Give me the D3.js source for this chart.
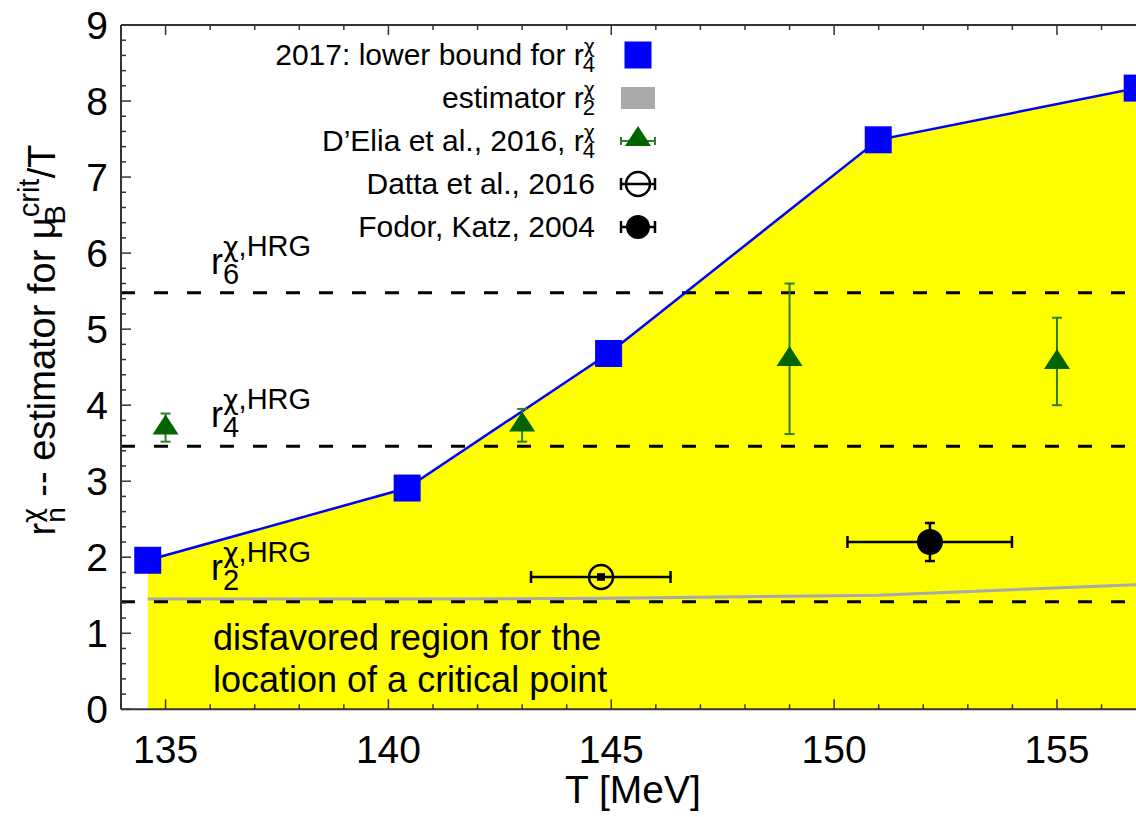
<!DOCTYPE html>
<html>
<head>
<meta charset="utf-8">
<script src="https://cdn.jsdelivr.net/npm/d3@7"></script>
<style>
  body { margin: 0; background: #fff; }
  text { font-family: "Liberation Sans", Arial, sans-serif; fill: #000; }
  .greek { font-family: "DejaVu Sans", sans-serif; }
</style>
</head>
<body>
<div id="chart"></div>
<script>
// 2017 lower bound for r4 (blue squares) and estimator r2 (grey line)
const bound_T = [134.6, 140.42, 144.94, 150.99, 156.8];
const bound_r4 = [1.96, 2.91, 4.68, 7.49, 8.17];
const estimator_r2 = [1.45, 1.45, 1.46, 1.50, 1.64];

// D'Elia et al. 2016 (green triangles)
const delia_T = [135, 143, 149, 155];
const delia_val = [3.72, 3.76, 4.62, 4.58];
const delia_lo = [3.52, 3.52, 3.62, 4.0];
const delia_hi = [3.89, 3.95, 5.6, 5.15];

// Datta et al. 2016 (open circle), Fodor-Katz 2004 (filled circle)
const datta = { T: 144.77, val: 1.74, T_lo: 143.2, T_hi: 146.33, lo: 1.69, hi: 1.79 };
const fodor = { T: 152.15, val: 2.2, T_lo: 150.3, T_hi: 153.99, lo: 1.95, hi: 2.45 };

// HRG reference values
const hrg_n = ['6', '4', '2'];
const hrg_val = [5.48, 3.46, 1.415];

const x_major = [135, 140, 145, 150, 155];
const y_major = [0, 1, 2, 3, 4, 5, 6, 7, 8, 9];

const width = 1136, height = 817;
const svg = d3.select('#chart').append('svg')
    .attr('width', width)
    .attr('height', height);

const x = d3.scaleLinear().domain([134, 157]).range([121, 1146.1]);
const y = d3.scaleLinear().domain([0, 9]).range([709.3, 25]);

const green = '#006400';
const bar_green = '#2e7d2e';
const ink = '#000';

// yellow disfavoured region under the lower bound
const area_pts = bound_T.map((t, i) => [t, bound_r4[i]]);
svg.append('path')
    .datum(area_pts)
    .attr('fill', '#ffff00')
    .attr('d', d3.area().x(d => x(d[0])).y0(y(0)).y1(d => y(d[1])));

// grey estimator line
svg.append('path')
    .datum(bound_T.map((t, i) => [t, estimator_r2[i]]))
    .attr('fill', 'none')
    .attr('stroke', '#aaaaaa')
    .attr('stroke-width', 3)
    .attr('d', d3.line().x(d => x(d[0])).y(d => y(d[1])));

// dashed HRG lines
svg.selectAll('line.hrg')
    .data(hrg_val)
    .join('line')
    .attr('class', 'hrg')
    .attr('x1', x(134)).attr('x2', width)
    .attr('y1', d => y(d)).attr('y2', d => y(d))
    .attr('stroke', ink)
    .attr('stroke-width', 3)
    .attr('stroke-dasharray', '14,19');

// frame + ticks
const frame = svg.append('g').attr('stroke', '#333').attr('stroke-width', 2);
frame.append('line').attr('x1', x(134)).attr('x2', width).attr('y1', y(0)).attr('y2', y(0));
frame.append('line').attr('x1', x(134)).attr('x2', width).attr('y1', y(9)).attr('y2', y(9));
frame.append('line').attr('x1', x(134)).attr('x2', x(134)).attr('y1', y(0)).attr('y2', y(9));

const x_minor = d3.range(134, 158, 1).filter(v => !x_major.includes(v));
const y_minor = d3.range(0, 9.01, 0.2).filter(v => Math.abs(v - Math.round(v)) > 0.01);
const tick_g = svg.append('g').attr('stroke', '#333').attr('stroke-width', 1.5);
[[x_major, 10], [x_minor, 5]].forEach(([vals, len]) => {
    vals.forEach(v => {
        tick_g.append('line').attr('x1', x(v)).attr('x2', x(v)).attr('y1', y(0)).attr('y2', y(0) - len);
        tick_g.append('line').attr('x1', x(v)).attr('x2', x(v)).attr('y1', y(9)).attr('y2', y(9) + len);
    });
});
[[y_major, 10], [y_minor, 5]].forEach(([vals, len]) => {
    vals.forEach(v => {
        tick_g.append('line').attr('x1', x(134)).attr('x2', x(134) + len).attr('y1', y(v)).attr('y2', y(v));
    });
});

// tick labels
svg.selectAll('text.xt')
    .data(x_major)
    .join('text')
    .attr('class', 'xt')
    .attr('x', d => x(d))
    .attr('y', 763)
    .attr('text-anchor', 'middle')
    .attr('font-size', 39)
    .text(d => d);
svg.selectAll('text.yt')
    .data(y_major)
    .join('text')
    .attr('class', 'yt')
    .attr('x', 108)
    .attr('y', d => y(d))
    .attr('dy', '0.36em')
    .attr('text-anchor', 'end')
    .attr('font-size', 39)
    .text(d => d);

// axis titles
svg.append('text')
    .attr('x', 633).attr('y', 803)
    .attr('text-anchor', 'middle')
    .attr('font-size', 39)
    .text('T [MeV]');

const ylab = svg.append('text')
    .attr('transform', 'translate(55,340) rotate(-90)')
    .attr('text-anchor', 'middle')
    .attr('font-size', 38);
ylab.append('tspan').text('r');
ylab.append('tspan').attr('class', 'greek').attr('font-size', 26).attr('dy', -14).text('χ');
ylab.append('tspan').attr('font-size', 28).attr('dx', -15).attr('dy', 24).text('n');
ylab.append('tspan').attr('dy', -10).text(' -- estimator for μ');
ylab.append('tspan').attr('font-size', 29).attr('dy', -16).text('crit');
ylab.append('tspan').attr('font-size', 29).attr('dx', -46).attr('dy', 26).text('B');
ylab.append('tspan').attr('dx', 27).attr('dy', -10).text('/T');

// "r" with a stacked superscript and subscript, as one text element
function scripted_r(g, x0, base, size, script_size, prefix, sup, sub, sup_up, sub_down, anchor) {
    const t = g.append('text')
        .attr('x', x0).attr('y', base)
        .attr('font-size', size)
        .attr('text-anchor', anchor);
    t.append('tspan').text(prefix);
    const s1 = t.append('tspan').attr('font-size', script_size).attr('dy', -sup_up);
    s1.append('tspan').attr('class', 'greek').text('χ');
    if (sup.length > 1) s1.append('tspan').text(sup.slice(1));
    // move back to just after the r for the subscript
    const back = script_size * (0.62 + (sup.length - 1) * 0.62);
    t.append('tspan').attr('font-size', script_size)
        .attr('dx', -back).attr('dy', sup_up + sub_down).text(sub);
    return t;
}

// HRG labels
hrg_val.forEach((v, i) => {
    const base = y(v) - (i === 2 ? 22 : 19);
    const t = svg.append('text').attr('x', 211).attr('y', base).attr('font-size', 36);
    t.append('tspan').text('r');
    t.append('tspan').attr('class', 'greek').attr('font-size', 27).attr('dy', -18).text('χ');
    t.append('tspan').attr('font-size', 29).text(',HRG');
    t.append('tspan').attr('x', 223).attr('dy', 28).attr('font-size', 29).text(hrg_n[i]);
});

// disfavoured region caption
svg.append('text').attr('x', 213).attr('y', 650).attr('font-size', 36).text('disfavored region for the');
svg.append('text').attr('x', 213).attr('y', 692).attr('font-size', 36).text('location of a critical point');

// blue bound line + squares
svg.append('path')
    .datum(area_pts)
    .attr('fill', 'none')
    .attr('stroke', '#0000ff')
    .attr('stroke-width', 2.5)
    .attr('d', d3.line().x(d => x(d[0])).y(d => y(d[1])));
svg.selectAll('rect.sq')
    .data(area_pts)
    .join('rect')
    .attr('class', 'sq')
    .attr('x', d => x(d[0]) - 13.5).attr('y', d => y(d[1]) - 13.5)
    .attr('width', 27).attr('height', 27)
    .attr('fill', '#0000ff');

// error bars
function err_v(g, cx, y_lo, y_hi, cap, color, w) {
    g.append('line').attr('x1', cx).attr('x2', cx).attr('y1', y_lo).attr('y2', y_hi)
        .attr('stroke', color).attr('stroke-width', w);
    [y_lo, y_hi].forEach(yy => g.append('line')
        .attr('x1', cx - cap).attr('x2', cx + cap).attr('y1', yy).attr('y2', yy)
        .attr('stroke', color).attr('stroke-width', w));
}
function err_h(g, cy, x_lo, x_hi, cap, color, w) {
    g.append('line').attr('x1', x_lo).attr('x2', x_hi).attr('y1', cy).attr('y2', cy)
        .attr('stroke', color).attr('stroke-width', w);
    [x_lo, x_hi].forEach(xx => g.append('line')
        .attr('x1', xx).attr('x2', xx).attr('y1', cy - cap).attr('y2', cy + cap)
        .attr('stroke', color).attr('stroke-width', w));
}
function triangle(g, cx, cy, color) {
    g.append('path')
        .attr('d', `M${cx},${cy - 12}L${cx + 13},${cy + 8}L${cx - 13},${cy + 8}Z`)
        .attr('fill', color);
}

const pts = svg.append('g');
delia_T.forEach((t, i) => {
    err_v(pts, x(t), y(delia_lo[i]), y(delia_hi[i]), 5, bar_green, 2);
    triangle(pts, x(t), y(delia_val[i]), green);
});

err_h(pts, y(datta.val), x(datta.T_lo), x(datta.T_hi), 6, ink, 2.5);
pts.append('circle').attr('cx', x(datta.T)).attr('cy', y(datta.val)).attr('r', 12)
    .attr('fill', 'none').attr('stroke', ink).attr('stroke-width', 2.5);
pts.append('rect').attr('x', x(datta.T) - 4).attr('y', y(datta.hi)).attr('width', 8)
    .attr('height', y(datta.lo) - y(datta.hi)).attr('fill', ink);

err_h(pts, y(fodor.val), x(fodor.T_lo), x(fodor.T_hi), 6, ink, 2.5);
err_v(pts, x(fodor.T), y(fodor.lo), y(fodor.hi), 5, ink, 2.5);
pts.append('circle').attr('cx', x(fodor.T)).attr('cy', y(fodor.val)).attr('r', 13).attr('fill', ink);

// legend
const leg = svg.append('g');
const leg_rows = [
    { label: '2017: lower bound for r', sub: '4' },
    { label: 'estimator r', sub: '2' },
    { label: 'D’Elia et al., 2016, r', sub: '4' },
    { label: 'Datta et al., 2016' },
    { label: 'Fodor, Katz, 2004' }
];
leg_rows.forEach((r, i) => {
    const base = 65 + i * 43;
    const t = leg.append('text').attr('x', 595).attr('y', base).attr('text-anchor', 'end')
        .attr('font-size', 30);
    t.append('tspan').text(r.label);
    if (r.sub) {
        t.append('tspan').attr('class', 'greek').attr('font-size', 19).attr('dy', -12).text('χ');
        t.append('tspan').attr('font-size', 22).attr('dx', -12).attr('dy', 19).text(r.sub);
    }
});
const sx = 638;
leg.append('rect').attr('x', sx - 13.5).attr('y', 55 - 13.5).attr('width', 27).attr('height', 27).attr('fill', '#0000ff');
leg.append('rect').attr('x', sx - 17).attr('y', 98 - 11).attr('width', 34).attr('height', 22).attr('fill', '#aaaaaa');
err_h(leg, 141, sx - 17, sx + 17, 4, bar_green, 2);
triangle(leg, sx, 138, green);
err_h(leg, 184, sx - 17, sx + 17, 6, ink, 2.5);
leg.append('circle').attr('cx', sx).attr('cy', 184).attr('r', 12).attr('fill', 'none').attr('stroke', ink).attr('stroke-width', 2.5);
err_h(leg, 227, sx - 17, sx + 17, 6, ink, 2.5);
leg.append('circle').attr('cx', sx).attr('cy', 227).attr('r', 12).attr('fill', ink);
</script>
</body>
</html>
